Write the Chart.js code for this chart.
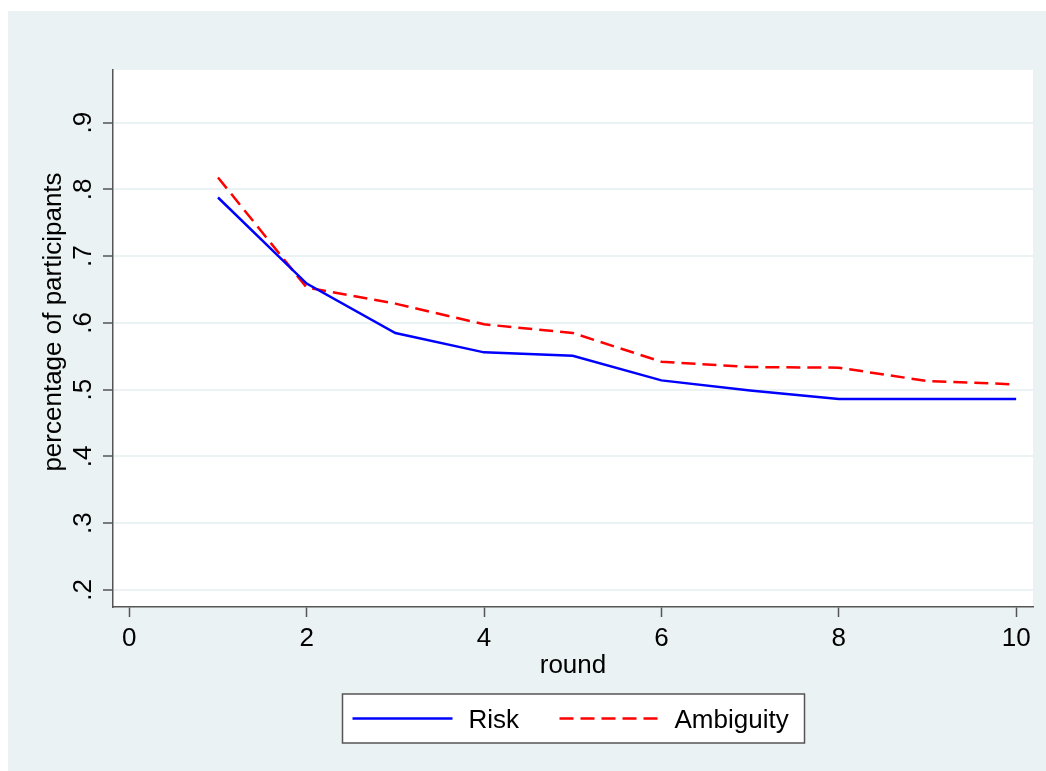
<!DOCTYPE html>
<html>
<head>
<meta charset="utf-8">
<script src="https://cdn.jsdelivr.net/npm/chart.js@4/dist/chart.umd.min.js"></script>
<style>
  html, body { margin: 0; padding: 0; background: #fff; }
  #wrap { width: 1046px; height: 771px; }
</style>
</head>
<body>
<div id="wrap"><canvas id="chart" width="1046" height="771"></canvas></div>
<script>
// data
const rounds = [1, 2, 3, 4, 5, 6, 7, 8, 9, 10];
const risk = [0.788, 0.659, 0.585, 0.556, 0.551, 0.514, 0.499, 0.486, 0.486, 0.486];
const ambiguity = [0.818, 0.653, 0.629, 0.598, 0.585, 0.542, 0.534, 0.533, 0.513, 0.508];
const xTicks = [0, 2, 4, 6, 8, 10];
const yTicks = [0.2, 0.3, 0.4, 0.5, 0.6, 0.7, 0.8, 0.9];
const yTickLabels = ['.2', '.3', '.4', '.5', '.6', '.7', '.8', '.9'];
const seriesNames = ['Risk', 'Ambiguity'];

const FONT = '"Liberation Sans", Arial, sans-serif';
const BG = '#eaf2f3';
const AXIS = '#555555';

const stataPlugin = {
    id: 'stata',
    beforeDraw(chart) {
        const ctx = chart.ctx;
        const a = chart.chartArea;
        ctx.save();
        ctx.fillStyle = '#ffffff';
        ctx.fillRect(0, 0, chart.width, chart.height);
        ctx.fillStyle = BG;
        ctx.fillRect(8, 11, chart.width - 8, chart.height - 11);
        ctx.fillStyle = '#ffffff';
        ctx.fillRect(a.left, a.top, a.right - a.left, a.bottom - a.top);
        ctx.restore();
    },
    afterDraw(chart) {
        const ctx = chart.ctx;
        const a = chart.chartArea;
        const yScale = chart.scales.y;
        ctx.save();
        ctx.fillStyle = '#000';
        ctx.font = '26px ' + FONT;

        // y tick labels, rotated like Stata
        yScale.ticks.forEach((t, i) => {
            const py = yScale.getPixelForValue(t.value);
            ctx.save();
            ctx.translate(a.left - 22, py);
            ctx.rotate(-Math.PI / 2);
            ctx.textAlign = 'center';
            ctx.textBaseline = 'alphabetic';
            ctx.fillText(yTickLabels[i], 0, 0);
            ctx.restore();
        });

        // y title
        ctx.save();
        ctx.translate(61, 322);
        ctx.rotate(-Math.PI / 2);
        ctx.textAlign = 'center';
        ctx.textBaseline = 'alphabetic';
        ctx.fillText('percentage of participants', 0, 0);
        ctx.restore();

        // x title
        ctx.textAlign = 'center';
        ctx.textBaseline = 'alphabetic';
        ctx.fillText('round', (a.left + a.right) / 2, 673);

        // legend box
        const cx = (a.left + a.right) / 2;
        const bx = cx - 230.5, by = 694, bw = 462, bh = 49;
        ctx.fillStyle = '#ffffff';
        ctx.fillRect(bx, by, bw, bh);
        ctx.strokeStyle = AXIS;
        ctx.lineWidth = 1.5;
        ctx.strokeRect(bx, by, bw, bh);

        const items = [
            { x0: bx + 10, tx: bx + 126 },
            { x0: bx + 217, tx: bx + 332 }
        ];
        chart.data.datasets.forEach((ds, i) => {
            const it = items[i];
            ctx.save();
            ctx.strokeStyle = ds.borderColor;
            ctx.lineWidth = ds.borderWidth;
            ctx.setLineDash(ds.borderDash || []);
            ctx.beginPath();
            ctx.moveTo(it.x0, 718.5);
            ctx.lineTo(it.x0 + 100, 718.5);
            ctx.stroke();
            ctx.restore();
            ctx.fillStyle = '#000';
            ctx.textAlign = 'left';
            ctx.fillText(ds.label, it.tx, 728);
        });
        ctx.restore();
    }
};

const ctx = document.getElementById('chart').getContext('2d');
new Chart(ctx, {
    type: 'line',
    data: {
        datasets: [{
            label: seriesNames[0],
            data: rounds.map((r, i) => ({ x: r, y: risk[i] })),
            borderColor: '#0000ff',
            borderWidth: 2.5,
            pointRadius: 0,
            tension: 0,
            fill: false
        }, {
            label: seriesNames[1],
            data: rounds.map((r, i) => ({ x: r, y: ambiguity[i] })),
            borderColor: '#ff0000',
            borderWidth: 2.5,
            borderDash: [14, 7],
            pointRadius: 0,
            tension: 0,
            fill: false
        }]
    },
    options: {
        responsive: false,
        animation: false,
        devicePixelRatio: 1,
        layout: { padding: { left: 0, top: 70, right: 13, bottom: 0 } },
        plugins: {
            legend: { display: false },
            tooltip: { enabled: false },
            title: { display: false }
        },
        scales: {
            x: {
                type: 'linear',
                min: -0.184,
                max: 10.19,
                afterBuildTicks: (scale) => {
                    scale.ticks = xTicks.map(v => ({ value: v }));
                },
                afterFit: (scale) => { scale.height = 164; },
                grid: {
                    drawOnChartArea: false,
                    drawTicks: true,
                    tickLength: 10,
                    tickColor: AXIS,
                    tickWidth: 1.5
                },
                border: { display: true, color: AXIS, width: 1.5 },
                ticks: {
                    color: '#000',
                    padding: 6,
                    maxRotation: 0,
                    autoSkip: false,
                    font: { family: FONT, size: 26 },
                    callback: (v) => String(v)
                }
            },
            y: {
                type: 'linear',
                min: 0.1745,
                max: 0.979,
                afterBuildTicks: (scale) => {
                    scale.ticks = yTicks.map(v => ({ value: v }));
                },
                afterFit: (scale) => { scale.width = 113; },
                grid: {
                    color: BG,
                    lineWidth: 2,
                    drawTicks: true,
                    tickLength: 10,
                    tickColor: AXIS,
                    tickWidth: 1.5
                },
                border: { display: true, color: AXIS, width: 1.5 },
                ticks: { display: false }
            }
        }
    },
    plugins: [stataPlugin]
});
</script>
</body>
</html>
